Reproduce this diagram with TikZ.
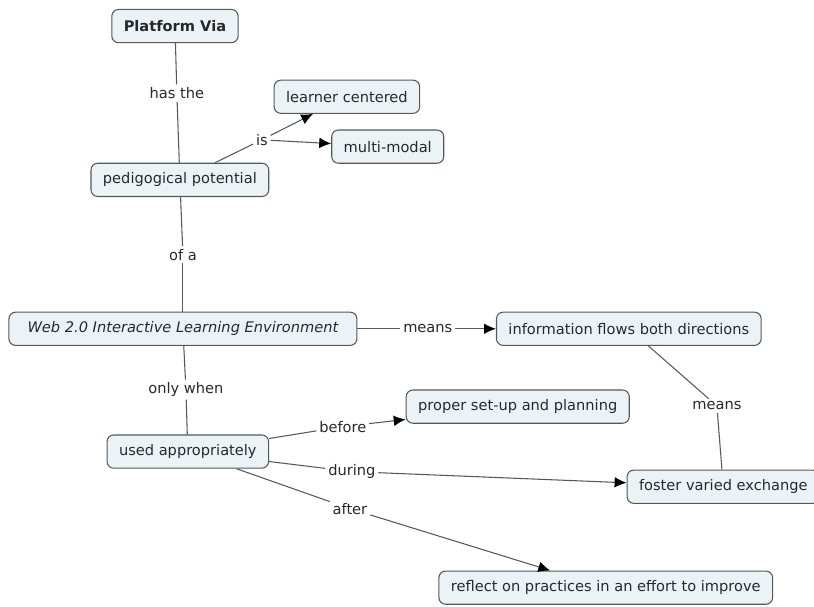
\documentclass[tikz,border=0pt]{standalone}
\usepackage{fontspec}
\setmainfont{DejaVu Sans}
\usepackage{tikz}
\usetikzlibrary{arrows.meta}

\definecolor{cmapfill}{RGB}{236,243,247}
\definecolor{cmapdraw}{RGB}{85,88,90}
\definecolor{cmaptext}{RGB}{40,40,40}

\begin{document}
\begin{tikzpicture}[node distance=1.6cm]
                % Define styles
                \tikzstyle{box_concept} = [font=\fontsize{11}{13}\selectfont, text=cmaptext, rectangle, draw=cmapdraw, line width=0.8pt, fill=cmapfill, inner xsep=9pt, rounded corners=5pt, minimum height=25pt]
                \tikzstyle{box_root} = [box_concept, font=\fontsize{11}{13}\selectfont\bfseries]
                \tikzstyle{box_web} = [box_concept, font=\fontsize{11}{13}\selectfont\itshape, inner xsep=14pt]
                \tikzstyle{link_label} = [font=\fontsize{11}{13}\selectfont, text=cmaptext, fill=white, inner sep=2pt]
                \tikzstyle{line} = [draw=cmapdraw, line width=0.8pt]
                \tikzstyle{line_arrow} = [line, -{Latex[length=9pt,width=8pt,color=black]}]

                % Bounding box
                \useasboundingbox (-4.63,0.69) rectangle (16.91,-15.37);

                % Nodes
                \node [box_root] (platform) {Platform Via};
                \node [box_concept, below of=platform, node distance=4.07cm, xshift=0.13cm] (pedigogical) {pedigogical potential};
                \node [box_concept, right of=pedigogical, node distance=4.42cm, yshift=2.2cm] (learner) {learner centered};
                \node [box_concept, below of=learner, node distance=1.32cm, xshift=1.08cm] (multimodal) {multi-modal};

                \node [box_web, below of=pedigogical, node distance=3.94cm, xshift=0.08cm] (web) {Web 2.0 Interactive Learning Environment};
                \node [box_concept, right of=web, node distance=11.8cm] (info_flows) {information flows both directions};

                \node [box_concept, below of=web, node distance=3.25cm, xshift=0.13cm] (used) {used appropriately};
                \node [box_concept, right of=used, node distance=8.73cm, yshift=1.19cm] (setup) {proper set-up and planning};
                \node [box_concept, below of=info_flows, node distance=4.18cm, xshift=2.5cm] (foster) {foster varied exchange};
                \node [box_concept, below of=used, node distance=3.6cm, xshift=11.06cm] (reflect) {reflect on practices in an effort to improve};

                % Link labels
                \node [link_label, below of=platform, node distance=1.77cm, xshift=0.05cm] (has_the) {has the};
                \node [link_label, right of=pedigogical, node distance=2.17cm, yshift=1.06cm] (is) {is};
                \node [link_label, below of=pedigogical, node distance=1.98cm, xshift=0.08cm] (of_a) {of a};
                \node [link_label, right of=web, node distance=6.48cm] (means_web) {means};
                \node [link_label, below of=web, node distance=1.61cm, xshift=0.08cm] (only_when) {only when};
                \node [link_label, right of=used, node distance=4.1cm, yshift=0.66cm] (before) {before};
                \node [link_label, right of=used, node distance=4.34cm, yshift=-0.53cm] (during) {during};
                \node [link_label, right of=used, node distance=4.29cm, yshift=-1.51cm] (after) {after};
                \node [link_label, below of=info_flows, node distance=2.04cm, xshift=2.33cm] (means_info) {means};

                % Lines
                \path [line] (platform) -- (has_the);
                \path [line] (has_the) -- (pedigogical);

                \path [line] (pedigogical) -- (is);
                \path [line_arrow] (is) -- (learner);
                \path [line_arrow] (is) -- (multimodal);

                \path [line] (pedigogical) -- (of_a);
                \path [line] (of_a) -- (web);

                \path [line] (web) -- (means_web);
                \path [line_arrow] (means_web) -- (info_flows);

                \path [line] (web) -- (only_when);
                \path [line] (only_when) -- (used);

                \path [line] (used) -- (before);
                \path [line_arrow] (before) -- (setup);
                \path [line] (used) -- (during);
                \path [line_arrow] (during) -- (foster);
                \path [line] (used) -- (after);
                \path [line_arrow] (after) -- (reflect);

                \path [line] (info_flows) -- (means_info);
                \path [line] (means_info) -- (foster);
            \end{tikzpicture}
\end{document}
